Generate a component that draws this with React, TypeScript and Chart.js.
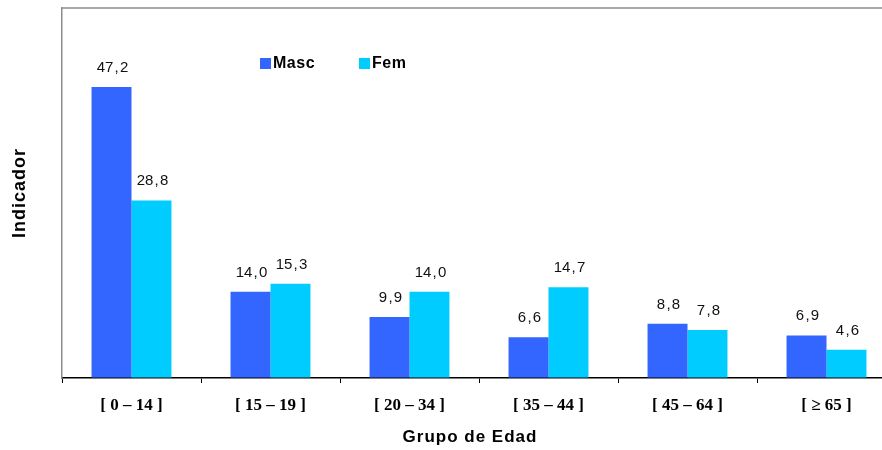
import React, { useEffect, useRef } from "react";
import { Chart, registerables } from "chart.js";

Chart.register(...registerables);

const categories = ["[ 0 – 14 ]", "[ 15 – 19 ]", "[ 20 – 34 ]", "[ 35 – 44 ]", "[ 45 – 64 ]", "[ ≥ 65 ]"];
const masc = [47.2, 14.0, 9.9, 6.6, 8.8, 6.9];
const fem = [28.8, 15.3, 14.0, 14.7, 7.8, 4.6];
const seriesNames = ["Masc", "Fem"];
const seriesColors = ["#3366FF", "#00CCFF"];
const yMax = 60;

const fmt = (v: number) => v.toFixed(1).replace(".", "\u200A,\u200A");

const extrasPlugin = {
  id: "extras",
  afterDraw(chart: any) {
    const ctx = chart.ctx as CanvasRenderingContext2D;
    const area = chart.chartArea;
    ctx.save();
    // top frame line
    ctx.strokeStyle = "#8c8c8c";
    ctx.lineWidth = 1.5;
    ctx.beginPath();
    ctx.moveTo(area.left, area.top);
    ctx.lineTo(area.right, area.top);
    ctx.stroke();

    // data labels
    ctx.fillStyle = "#111";
    ctx.font = "15px Arial, 'Liberation Sans', sans-serif";
    ctx.textAlign = "center";
    ctx.textBaseline = "alphabetic";
    chart.data.datasets.forEach((ds: any, di: number) => {
      const meta = chart.getDatasetMeta(di);
      meta.data.forEach((el: any, i: number) => {
        ctx.fillText(fmt(ds.data[i]), el.x + 1, el.y - 15);
      });
    });

    // legend inside plot
    const lx = [260, 359];
    ctx.font = "bold 16px Arial, 'Liberation Sans', sans-serif";
    (ctx as any).letterSpacing = "0.5px";
    ctx.textAlign = "left";
    ctx.textBaseline = "middle";
    chart.data.datasets.forEach((ds: any, di: number) => {
      ctx.fillStyle = ds.backgroundColor;
      ctx.fillRect(lx[di], 58, 11, 11);
      ctx.fillStyle = "#000";
      ctx.fillText(ds.label, lx[di] + 13, 64);
    });

    // x axis title
    ctx.font = "bold 17px Arial, 'Liberation Sans', sans-serif";
    (ctx as any).letterSpacing = "1px";
    ctx.textAlign = "center";
    ctx.fillStyle = "#000";
    ctx.fillText("Grupo de Edad", 470, 437);

    // y axis title
    ctx.translate(20, (area.top + area.bottom) / 2);
    ctx.rotate(-Math.PI / 2);
    ctx.font = "bold 18px Arial, 'Liberation Sans', sans-serif";
    (ctx as any).letterSpacing = "1px";
    ctx.fillText("Indicador", 0, 0);
    ctx.restore();
  },
};

export default function App() {
  const ref = useRef<HTMLCanvasElement>(null);
  useEffect(() => {
    if (!ref.current) return;
    const chart = new Chart(ref.current, {
      type: "bar",
      data: {
        labels: categories,
        datasets: [
          { label: seriesNames[0], data: masc, backgroundColor: seriesColors[0] },
          { label: seriesNames[1], data: fem, backgroundColor: seriesColors[1] },
        ],
      },
      options: {
        animation: false,
        responsive: false,
        layout: { padding: { top: 8, right: 4, left: 0, bottom: 0 } },
        plugins: { legend: { display: false }, tooltip: { enabled: false } },
        datasets: { bar: { categoryPercentage: 0.575, barPercentage: 1 } },
        scales: {
          x: {
            grid: {
              offset: true,
              drawOnChartArea: false,
              drawTicks: true,
              tickLength: 5,
              color: "#000",
              lineWidth: 1,
            },
            border: { color: "#000", width: 1.5 },
            ticks: {
              color: "#000",
              padding: 12,
              font: { family: "'Liberation Serif', 'Times New Roman', serif", size: 17, weight: "bold" },
            },
            afterFit: (s: any) => {
              s.height = 72;
            },
          },
          y: {
            min: 0,
            max: yMax,
            ticks: { display: false },
            grid: { drawOnChartArea: false, drawTicks: false },
            border: { color: "#8c8c8c", width: 1.5 },
            afterFit: (s: any) => {
              s.width = 62;
            },
          },
        },
      },
      plugins: [extrasPlugin],
    });
    return () => chart.destroy();
  }, []);
  return (
    <div style={{ position: "fixed", left: 0, top: 0, width: 882, height: 450, overflow: "hidden", background: "#fff" }}>
      <canvas ref={ref} width={900} height={450} style={{ display: "block" }} />
    </div>
  );
}
